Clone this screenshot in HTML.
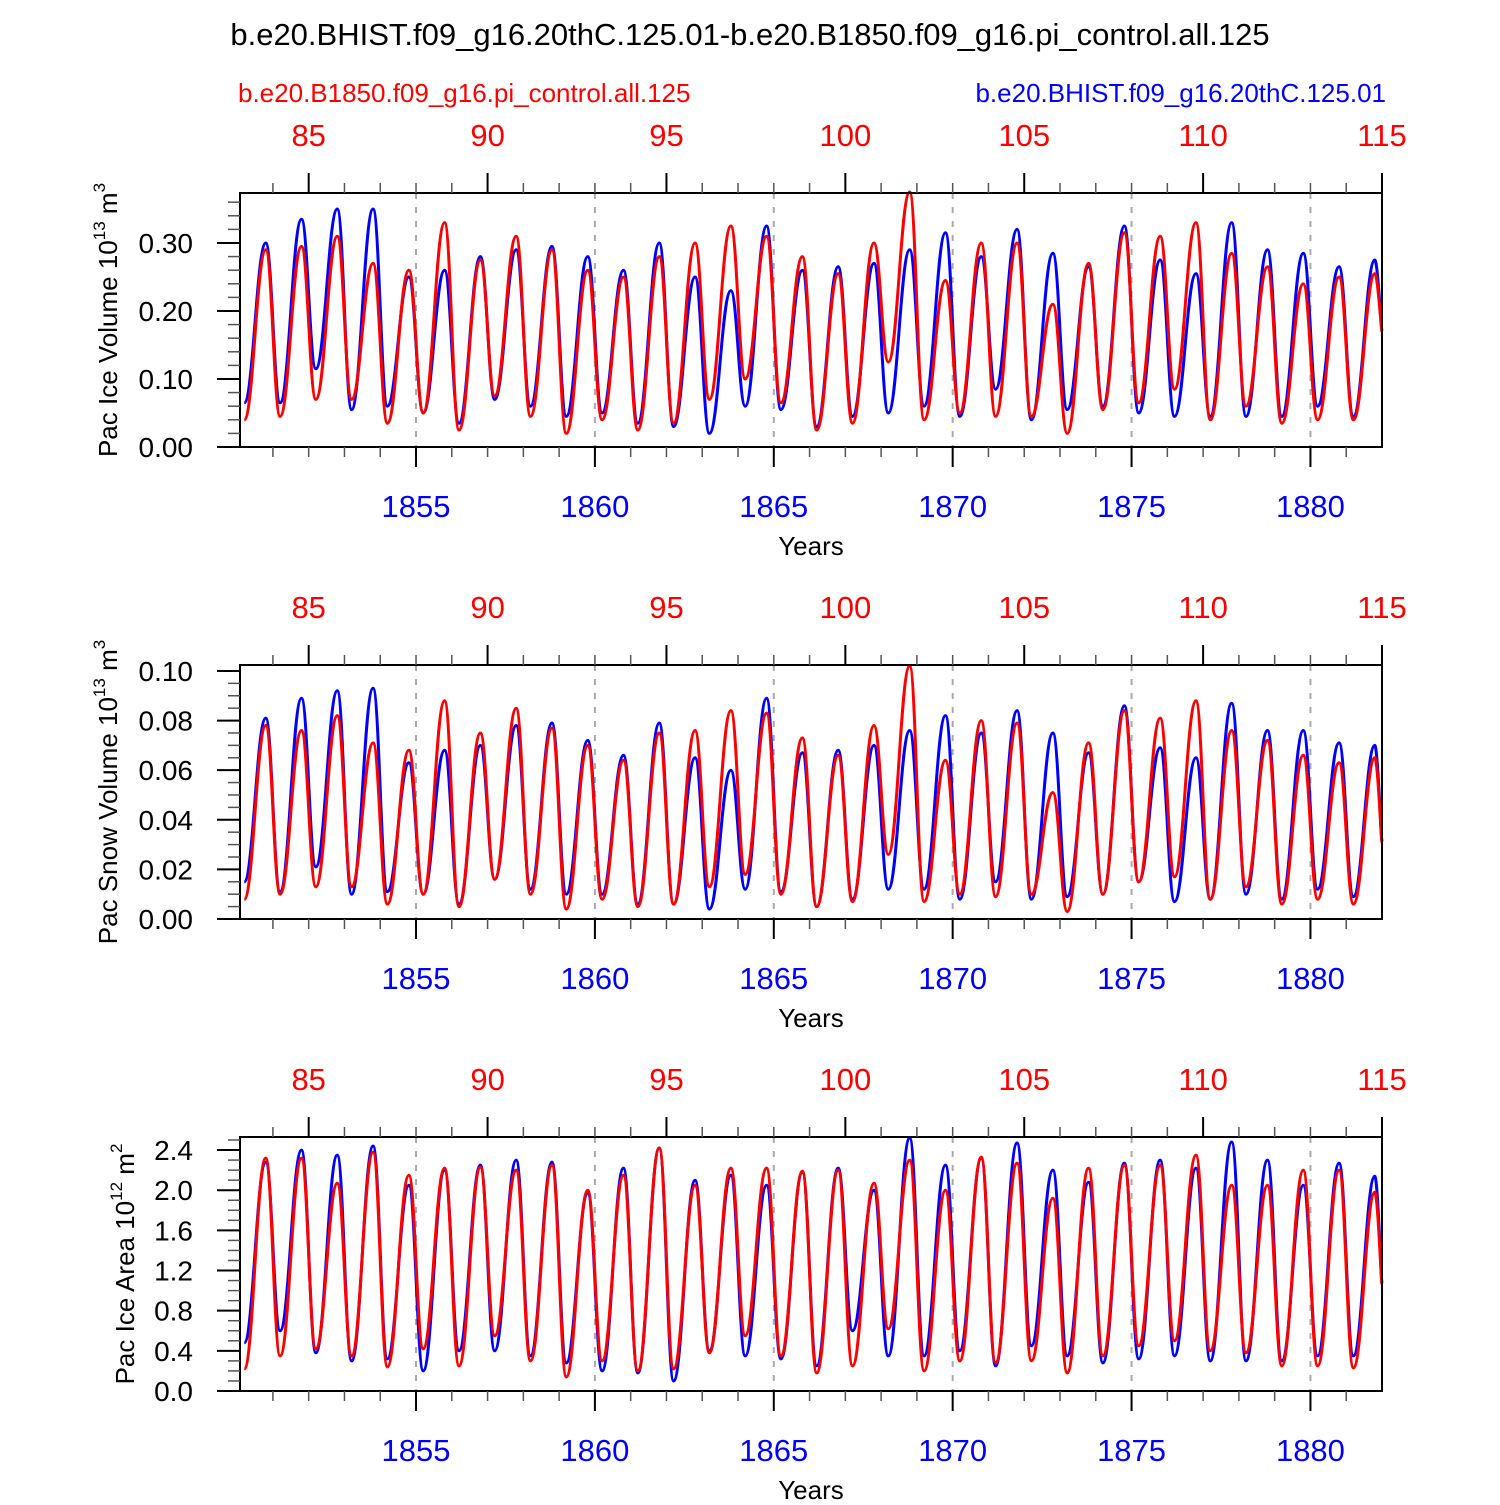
<!DOCTYPE html>
<html><head><meta charset="utf-8"><style>
body{margin:0;background:#fff}
svg text{font-family:"Liberation Sans",sans-serif}
</style></head><body>
<svg id="chart" width="1500" height="1500" viewBox="0 0 1500 1500" xmlns="http://www.w3.org/2000/svg">
<text x="750" y="45" text-anchor="middle" font-size="31">b.e20.BHIST.f09_g16.20thC.125.01-b.e20.B1850.f09_g16.pi_control.all.125</text>
<text x="238" y="102" font-size="26" fill="#f00">b.e20.B1850.f09_g16.pi_control.all.125</text>
<text x="1386" y="102" font-size="26" fill="#00f" text-anchor="end">b.e20.BHIST.f09_g16.20thC.125.01</text>
<g id="panels"></g>
</svg>
<script>
// Years 1850..1881: trough at year+0.2, peak at year+0.8
const years = [1850,1851,1852,1853,1854,1855,1856,1857,1858,1859,1860,1861,1862,1863,1864,1865,1866,1867,1868,1869,1870,1871,1872,1873,1874,1875,1876,1877,1878,1879,1880,1881];
const volBluePeak = [0.30,0.335,0.35,0.35,0.25,0.26,0.28,0.29,0.295,0.28,0.26,0.30,0.25,0.23,0.325,0.26,0.265,0.27,0.29,0.315,0.28,0.32,0.285,0.265,0.325,0.275,0.255,0.33,0.29,0.285,0.265,0.275];
const volBlueTrough = [0.065,0.065,0.115,0.055,0.06,0.05,0.035,0.07,0.06,0.045,0.05,0.035,0.03,0.02,0.06,0.055,0.03,0.045,0.05,0.06,0.045,0.085,0.04,0.055,0.06,0.05,0.045,0.045,0.045,0.045,0.06,0.045];
const volRedPeak = [0.29,0.295,0.31,0.27,0.26,0.33,0.275,0.31,0.29,0.26,0.25,0.28,0.30,0.325,0.31,0.28,0.255,0.30,0.375,0.245,0.30,0.30,0.21,0.27,0.315,0.31,0.33,0.285,0.265,0.24,0.25,0.255];
const volRedTrough = [0.04,0.045,0.07,0.07,0.035,0.05,0.025,0.075,0.045,0.02,0.04,0.025,0.035,0.07,0.10,0.065,0.025,0.035,0.125,0.04,0.05,0.045,0.045,0.02,0.055,0.065,0.085,0.04,0.06,0.035,0.04,0.04];
const snowBluePeak = [0.081,0.089,0.092,0.093,0.063,0.068,0.07,0.078,0.079,0.072,0.066,0.079,0.065,0.060,0.089,0.067,0.068,0.070,0.076,0.082,0.075,0.084,0.075,0.067,0.086,0.069,0.065,0.087,0.076,0.076,0.071,0.070];
const snowBlueTrough = [0.015,0.011,0.021,0.010,0.011,0.010,0.006,0.016,0.012,0.010,0.010,0.006,0.006,0.004,0.012,0.011,0.005,0.008,0.012,0.012,0.008,0.015,0.008,0.009,0.010,0.015,0.007,0.008,0.010,0.008,0.012,0.009];
const snowRedPeak = [0.078,0.076,0.082,0.071,0.068,0.088,0.075,0.085,0.077,0.070,0.064,0.075,0.076,0.084,0.083,0.073,0.066,0.078,0.102,0.064,0.080,0.079,0.051,0.071,0.084,0.081,0.088,0.076,0.072,0.066,0.063,0.065];
const snowRedTrough = [0.008,0.010,0.013,0.013,0.006,0.010,0.005,0.016,0.010,0.004,0.008,0.005,0.006,0.013,0.018,0.010,0.005,0.007,0.026,0.007,0.010,0.009,0.010,0.003,0.010,0.015,0.017,0.008,0.013,0.006,0.008,0.006];
const areaBluePeak = [2.28,2.40,2.35,2.44,2.05,2.20,2.25,2.30,2.28,1.97,2.22,2.42,2.10,2.15,2.05,2.18,2.22,2.00,2.52,2.25,2.32,2.47,2.20,2.08,2.27,2.30,2.22,2.48,2.30,2.05,2.27,2.14];
const areaBlueTrough = [0.48,0.60,0.38,0.30,0.32,0.20,0.40,0.40,0.35,0.28,0.20,0.18,0.10,0.40,0.35,0.32,0.25,0.60,0.35,0.35,0.40,0.25,0.45,0.35,0.28,0.32,0.35,0.30,0.30,0.30,0.35,0.35];
const areaRedPeak = [2.32,2.32,2.07,2.38,2.15,2.22,2.23,2.20,2.25,2.00,2.15,2.42,2.05,2.22,2.22,2.19,2.20,2.07,2.30,2.00,2.33,2.27,1.92,2.22,2.25,2.25,2.35,2.05,2.05,2.20,2.20,1.98];
const areaRedTrough = [0.22,0.35,0.42,0.35,0.24,0.42,0.25,0.55,0.30,0.14,0.30,0.20,0.22,0.38,0.55,0.35,0.18,0.25,0.62,0.20,0.30,0.28,0.30,0.18,0.35,0.45,0.50,0.40,0.38,0.25,0.25,0.23];
const endValues = [0.17,0.031,1.07];
const bottomTicks = [1855,1860,1865,1870,1875,1880];
const topTicks = [85,90,95,100,105,110,115];

const NS="http://www.w3.org/2000/svg";
const X0=240,X1=1382,T0=1850.08,T1=1882;
const xs=t=>X0+(t-T0)/(T1-T0)*(X1-X0);
const g=document.getElementById('panels');
function el(tag,attrs,parent){const e=document.createElementNS(NS,tag);for(const k in attrs)e.setAttribute(k,attrs[k]);(parent||g).appendChild(e);return e;}

const panels=[
 {top:193,bot:447,max:0.3735,step:0.1,minor:0.02,dec:2,title:'Pac Ice Volume 10',sup:'13',unit:' m',usup:'3',name:'ice-volume',data:[[volBluePeak,volBlueTrough,'#00f'],[volRedPeak,volRedTrough,'#f00']]},
 {top:665,bot:919,max:0.1024,step:0.02,minor:0.005,dec:2,title:'Pac Snow Volume 10',sup:'13',unit:' m',usup:'3',name:'snow-volume',data:[[snowBluePeak,snowBlueTrough,'#00f'],[snowRedPeak,snowRedTrough,'#f00']]},
 {top:1137,bot:1391,max:2.53,step:0.4,minor:0.1,dec:1,title:'Pac Ice Area 10',sup:'12',unit:' m',usup:'2',name:'ice-area',data:[[areaBluePeak,areaBlueTrough,'#00f'],[areaRedPeak,areaRedTrough,'#f00']]}
];
panels.forEach((p,pi)=>{
 const ys=v=>p.bot-v/p.max*(p.bot-p.top);
 const pg=el('g',{});
 
 
 bottomTicks.forEach(t=>{const l=el('line',{x1:xs(t),x2:xs(t),y1:p.top,y2:p.bot,stroke:'#aaa','stroke-width':2,'stroke-dasharray':'6,8'},pg);
  
  });
 p.data.forEach((s,si)=>{
  const pts=[];
  years.forEach((y,i)=>{pts.push([xs(y+0.2),ys(s[1][i])]);pts.push([xs(y+0.8),ys(s[0][i])]);});
  pts.push([xs(T1),ys(endValues[pi])]);
  let d='M'+pts[0][0].toFixed(1)+','+pts[0][1].toFixed(1);
  for(let i=1;i<pts.length;i++){const a=pts[i-1],b=pts[i];const dx=(b[0]-a[0])*0.42;
   const last=i===pts.length-1;
   d+=' C'+(a[0]+dx).toFixed(1)+','+a[1].toFixed(1)+' '+(last?b[0]-dx*0.3:b[0]-dx).toFixed(1)+','+b[1].toFixed(1)+' '+b[0].toFixed(1)+','+b[1].toFixed(1);}
  const pl=el('path',{d:d,fill:'none',stroke:s[2],'stroke-width':3,'stroke-linejoin':'round'},pg);
  
  
 });
 const fr=el('rect',{x:X0,y:p.top,width:X1-X0,height:p.bot-p.top,fill:'none',stroke:'#000','stroke-width':2},pg);
 
 
 for(let v=0;v<=p.max+1e-9;v+=p.minor){el('line',{x1:X0-12,x2:X0,y1:ys(v),y2:ys(v),stroke:'#555','stroke-width':1.5},pg);}
 for(let k=0;k*p.step<=p.max+1e-9;k++){const v=k*p.step;
  el('line',{x1:X0-23,x2:X0,y1:ys(v),y2:ys(v),stroke:'#000','stroke-width':2},pg);
  const tx=el('text',{x:X0-47,y:ys(v)+10,'text-anchor':'end','font-size':28},pg);tx.textContent=v.toFixed(p.dec);
  
  }
 for(let y=1851;y<=1881;y++){el('line',{x1:xs(y),x2:xs(y),y1:p.bot,y2:p.bot+10,stroke:'#555','stroke-width':1.5},pg);
  el('line',{x1:xs(y),x2:xs(y),y1:p.top,y2:p.top-10,stroke:'#555','stroke-width':1.5},pg);}
 bottomTicks.forEach(t=>{el('line',{x1:xs(t),x2:xs(t),y1:p.bot,y2:p.bot+20,stroke:'#000','stroke-width':2},pg);
  const tx=el('text',{x:xs(t),y:p.bot+70,'text-anchor':'middle','font-size':31,fill:'#00f'},pg);tx.textContent=t;
  
  });
 topTicks.forEach(t=>{const x=xs(t+1767);el('line',{x1:x,x2:x,y1:p.top,y2:p.top-20,stroke:'#000','stroke-width':2},pg);
  const tx=el('text',{x:x,y:p.top-47,'text-anchor':'middle','font-size':31,fill:'#f00'},pg);tx.textContent=t;
  
  });
 const xt=el('text',{x:811,y:p.bot+108,'text-anchor':'middle','font-size':26},pg);xt.textContent='Years';
 
 
 const cy=(p.top+p.bot)/2;
 const yt=el('text',{x:0,y:0,'text-anchor':'middle','font-size':26,transform:'translate('+(pi==2?134:117)+','+cy+') rotate(-90)'},pg);
 
 
 yt.appendChild(document.createTextNode(p.title));
 const s1=el('tspan',{'font-size':17,dy:-12},yt);s1.textContent=p.sup;
 const s2=el('tspan',{dy:12},yt);s2.textContent=p.unit;
 const s3=el('tspan',{'font-size':17,dy:-12},yt);s3.textContent=p.usup;
});
</script>
</body></html>
